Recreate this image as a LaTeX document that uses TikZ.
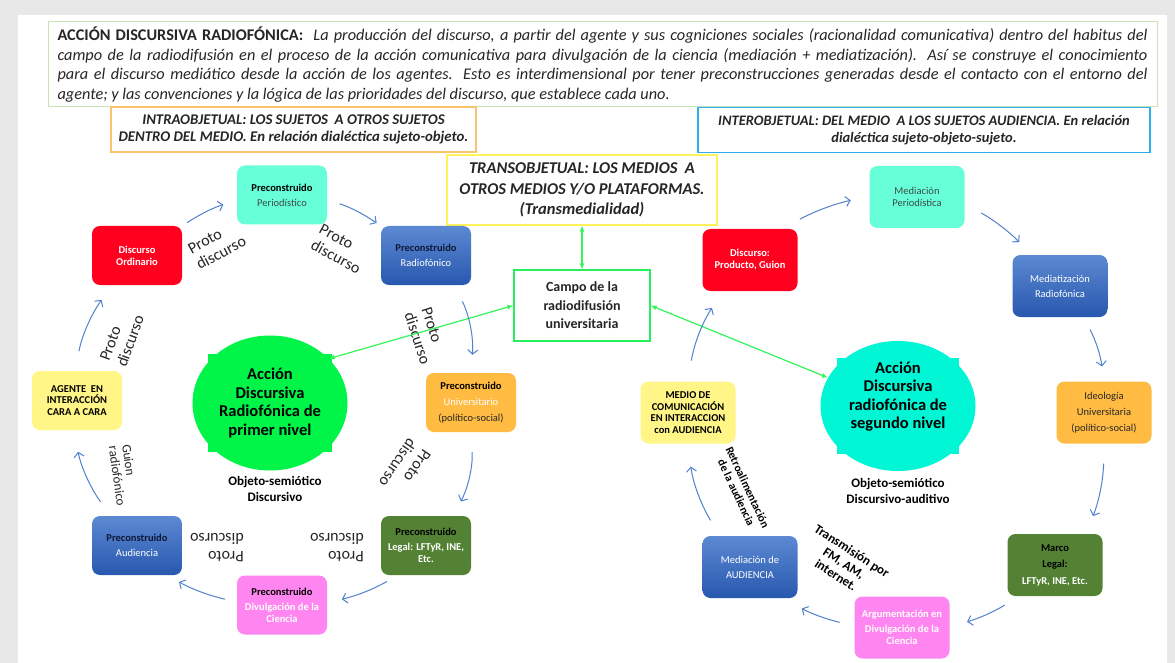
\documentclass[tikz,border=0pt]{standalone}
\usepackage{fontspec}
\setmainfont{Carlito}
\usetikzlibrary{shapes.geometric,arrows.meta}
\definecolor{page_gray}{RGB}{232,232,232}
\definecolor{hdr_green}{RGB}{200,226,185}
\definecolor{intra_orange}{RGB}{248,196,110}
\definecolor{inter_blue}{RGB}{45,175,235}
\definecolor{trans_yellow}{RGB}{255,242,90}
\definecolor{campo_green}{RGB}{40,240,90}
\definecolor{link_green}{RGB}{50,245,90}
\definecolor{cyc_blue}{RGB}{80,130,205}
\definecolor{box_red}{RGB}{255,0,30}
\definecolor{box_aqua}{RGB}{102,255,216}
\definecolor{box_blue_top}{RGB}{92,137,210}
\definecolor{box_blue_bot}{RGB}{40,88,175}
\definecolor{box_orange}{RGB}{255,187,66}
\definecolor{box_green}{RGB}{84,130,53}
\definecolor{box_pink}{RGB}{255,133,240}
\definecolor{box_yellow}{RGB}{255,246,135}
\definecolor{circ_green}{RGB}{0,245,72}
\definecolor{circ_aqua}{RGB}{0,246,212}
\definecolor{txt_dark}{RGB}{38,38,38}
\definecolor{txt_gray}{RGB}{60,75,70}
\definecolor{txt_navy}{RGB}{15,25,55}
\tikzstyle{headbox}=[rectangle,draw=hdr_green,line width=1pt,minimum width=1109pt,
  minimum height=85pt,inner sep=0pt,align=left,text=txt_dark,font=\fontsize{16.3}{19.5}\selectfont]
\tikzstyle{levelbox}=[rectangle,line width=1.2pt,inner sep=0pt,align=center,text=txt_dark,
  font=\fontsize{14.5}{17}\selectfont\bfseries\itshape]
\tikzstyle{cbox}=[rectangle,rounded corners=8pt,minimum width=90pt,minimum height=59pt,
  inner sep=2pt,align=center,text=black,font=\fontsize{10.5}{12}\selectfont]
\tikzstyle{rbox}=[cbox,minimum width=95pt,minimum height=62pt]
\tikzstyle{redbox}=[fill=box_red,text=white,font=\fontsize{10.5}{12}\selectfont\bfseries]
\tikzstyle{aquabox}=[fill=box_aqua,text=txt_gray]
\tikzstyle{bluebox}=[top color=box_blue_top,bottom color=box_blue_bot,text=white]
\tikzstyle{orangebox}=[fill=box_orange]
\tikzstyle{greenbox}=[fill=box_green,font=\fontsize{10.5}{12}\selectfont\bfseries]
\tikzstyle{pinkbox}=[fill=box_pink,font=\fontsize{10.5}{12}\selectfont\bfseries]
\tikzstyle{yellowbox}=[fill=box_yellow,font=\fontsize{10.5}{11.5}\selectfont\bfseries]
\tikzstyle{circ1}=[ellipse,fill=circ_green,minimum width=155pt,minimum height=135pt,
  inner sep=0pt,align=center,font=\fontsize{16.5}{18.5}\selectfont\bfseries]
\tikzstyle{circ2}=[circ1,fill=circ_aqua,minimum height=130pt]
\tikzstyle{objlabel}=[align=center,inner sep=0pt,font=\fontsize{13}{16.5}\selectfont\bfseries]
\tikzstyle{proto}=[align=left,inner sep=0pt,text=txt_dark,font=\fontsize{16}{18}\selectfont]
\tikzstyle{guionlabel}=[proto,font=\fontsize{13}{13.5}\selectfont]
\tikzstyle{retrolabel}=[align=center,inner sep=0pt,font=\fontsize{11.5}{12.5}\selectfont\bfseries]
\tikzstyle{translabel}=[align=center,inner sep=0pt,font=\fontsize{13}{14.5}\selectfont\bfseries]
\tikzstyle{cyc}=[draw=cyc_blue,line width=1pt,-{Straight Barb[length=4.5pt,width=10pt]}]
\tikzstyle{link}=[draw=link_green,line width=1.2pt,
  {Latex[length=6pt,width=5pt]}-{Latex[length=6pt,width=5pt]}]

\begin{document}
\begin{tikzpicture}[x=1pt,y=-1pt]
    \useasboundingbox (0,0) rectangle (1175,663);
    \fill [page_gray] (0,0) rectangle (1175,663);
    \fill [white] (18,15) rectangle (1167,663);

    \node [style=headbox] (intro) at (602.5,64.5) {%
      \makebox[1090pt][s]{\textbf{ACCIÓN DISCURSIVA RADIOFÓNICA:}\ \ \textit{La producción del discurso, a partir del agente y sus cogniciones sociales (racionalidad comunicativa) dentro del habitus del}}\\
      \makebox[1090pt][s]{\textit{campo de la radiodifusión en el proceso de la acción comunicativa para divulgación de la ciencia (mediación + mediatización). Así se construye el conocimiento}}\\
      \makebox[1090pt][s]{\textit{para el discurso mediático desde la acción de los agentes. Esto es interdimensional por tener preconstrucciones generadas desde el contacto con el entorno del}}\\
      \textit{agente; y las convenciones y la lógica de las prioridades del discurso, que establece cada uno.}};
    \node [style=levelbox,draw=intra_orange,minimum width=365pt,minimum height=45pt,
      font=\fontsize{14.8}{17}\selectfont\bfseries\itshape] (intra) at (293.5,129.5)
      {INTRAOBJETUAL: LOS SUJETOS\ \ A OTROS SUJETOS\\DENTRO DEL MEDIO. En relación dialéctica sujeto-objeto.};
    \node [style=levelbox,draw=inter_blue,minimum width=452pt,minimum height=45pt] (inter) at (924,130)
      {INTEROBJETUAL: DEL MEDIO\ \ A LOS SUJETOS AUDIENCIA. En relación\\dialéctica sujeto-objeto-sujeto.};
    \node [style=levelbox,draw=trans_yellow,minimum width=270pt,minimum height=70pt,
      font=\fontsize{16.5}{20.5}\selectfont\bfseries\itshape] (trans) at (582,190)
      {TRANSOBJETUAL: LOS MEDIOS\ \ A\\OTROS MEDIOS Y/O PLATAFORMAS.\\(Transmedialidad)};
    \node [style=levelbox,draw=campo_green,minimum width=136pt,minimum height=71pt,
      font=\fontsize{14}{18.5}\selectfont\bfseries] (campo) at (582,305.5)
      {Campo de la\\radiodifusión\\universitaria};

    \node [style=circ1] (accion1) at (270,403) {Acción\\Discursiva\\Radiofónica de\\primer nivel};
    \node [style=circ2] (accion2) at (898,406) {Acción\\Discursiva\\radiofónica de\\segundo nivel\\[3pt]};
    \foreach \a in {38,142,218,322} {
      \fill [circ_green] (accion1.\a) ++(-4,-4) rectangle ++(8,8);
      \fill [circ_aqua] (accion2.\a) ++(-4,-4) rectangle ++(8,8);
    }
    \node [style=objlabel] (obj1) at (275,489) {Objeto-semiótico\\Discursivo};
    \node [style=objlabel] (obj2) at (898,491) {Objeto-semiótico\\Discursivo-auditivo};

    \node [style=cbox,style=aquabox] (peri) at (282,195) {\textbf{\textcolor{black}{Preconstruido}}\\[3pt]Periodístico};
    \node [style=cbox,style=redbox] (ordi) at (137,255.5) {Discurso\\Ordinario};
    \node [style=cbox,style=bluebox] (radio) at (426,255.5) {\textbf{\textcolor{txt_navy}{Preconstruido}}\\[3pt]Radiofónico};
    \node [style=cbox,style=orangebox] (univ) at (471,402.5)
      {\textbf{Preconstruido}\\[4pt]\textcolor{white}{Universitario}\\[4pt]\textcolor{txt_dark}{(político-social)}};
    \node [style=cbox,style=greenbox] (legal) at (426,545.5) {Preconstruido\\[3pt]\textcolor{white}{Legal: LFTyR, INE,}\\\textcolor{white}{Etc.}};
    \node [style=cbox,style=pinkbox] (divul) at (282,605) {Preconstruido\\[3pt]\textcolor{white}{Divulgación de la}\\\textcolor{white}{Ciencia}};
    \node [style=cbox,style=bluebox] (audi) at (137,545.5) {\textbf{\textcolor{txt_navy}{Preconstruido}}\\[3pt]Audiencia};
    \node [style=cbox,style=yellowbox] (agente) at (77,400.5) {AGENTE\ \ EN\\INTERACCIÓN\\CARA A CARA};

    \node [style=rbox,style=aquabox] (medper) at (917,197) {Mediación\\Periodística};
    \node [style=rbox,style=redbox] (disc) at (750,260) {Discurso:\\Producto, Guion};
    \node [style=rbox,style=bluebox] (mediatiz) at (1060,286) {Mediatización\\[3pt]Radiofónica};
    \node [style=rbox,style=orangebox,text=txt_dark] (ideo) at (1104,412.5) {Ideología\\[4pt]Universitaria\\[4pt](político-social)};
    \node [style=rbox,style=greenbox] (marco) at (1055,565) {Marco\\[4.5pt]Legal:\\[4.5pt]\textcolor{white}{LFTyR, INE, Etc.}};
    \node [style=rbox,style=pinkbox,text=white] (argu) at (902,627.5) {Argumentación en\\[3pt]Divulgación de la\\Ciencia};
    \node [style=rbox,style=bluebox] (medaud) at (750,567) {Mediación de\\[3pt]AUDIENCIA};
    \node [style=rbox,style=yellowbox] (medio) at (688,412.5) {MEDIO DE\\COMUNICACIÓN\\EN INTERACCION\\con AUDIENCIA};

    \node [style=proto,rotate=28] (proto1) at (217,245) {Proto\\discurso};
    \node [style=proto,rotate=-28] (proto2) at (340,249) {Proto\\discurso};
    \node [style=proto,rotate=-72] (proto3) at (426,336) {Proto\\discurso};
    \node [style=proto,rotate=-124] (proto4) at (405,468) {Proto\\discurso};
    \node [style=proto,rotate=180] (proto5) at (337,548) {Proto\\discurso};
    \node [style=proto,rotate=180] (proto6) at (217,548) {Proto\\discurso};
    \node [style=proto,rotate=70] (proto7) at (122,338) {Proto\\discurso};
    \node [style=guionlabel,rotate=-82] (guion) at (124,475) {Guion\\radiofónico};
    \node [style=retrolabel,rotate=-65] (retro) at (742,490) {Retroalimentación\\de la audiencia};
    \node [style=translabel,rotate=-33] (transm) at (844,563) {Transmisión por\\FM, AM,\\internet.};

    \draw [style=link] (campo) to (trans);
    \draw [style=link] (campo.west) to (accion1.37);
    \draw [style=link] (campo.east) to (accion2.158);

    \draw [style=cyc,shorten <=6pt,shorten >=14pt] (ordi.north east) to [bend left=8] (peri.187);
    \draw [style=cyc,shorten <=13pt,shorten >=5pt] (peri.-6) to [bend left=8] (radio.north west);
    \draw [style=cyc,shorten <=18pt,shorten >=18pt] (radio.-46) to [bend left=15] (univ.north);
    \draw [style=cyc,shorten <=20pt,shorten >=16pt] (univ.south) to [bend left=15] (legal.47);
    \draw [style=cyc,shorten <=13pt,shorten >=15pt] (legal.227) to [bend left=8] (divul.3);
    \draw [style=cyc,shorten <=12pt,shorten >=14pt] (divul.176) to [bend left=8] (audi.-45);
    \draw [style=cyc,shorten <=17pt,shorten >=22pt] (audi.132) to [bend left=12] (agente.264);
    \draw [style=cyc,shorten <=20pt,shorten >=18pt] (agente.94) to [bend left=12] (ordi.230);

    \draw [style=cyc,shorten <=20pt,shorten >=19pt] (disc.44) to [bend left=8] (medper.179);
    \draw [style=cyc,shorten <=19pt,shorten >=18pt] (medper.-8) to [bend left=8] (mediatiz.132);
    \draw [style=cyc,shorten <=14pt,shorten >=15pt] (mediatiz.-53) to [bend left=10] (ideo.north);
    \draw [style=cyc,shorten <=20pt,shorten >=19pt] (ideo.south) to [bend left=10] (marco.45);
    \draw [style=cyc,shorten <=17pt,shorten >=18pt] (marco.221) to [bend left=8] (argu.1);
    \draw [style=cyc,shorten <=15pt,shorten >=21pt] (argu.178) to [bend left=8] (medaud.-43);
    \draw [style=cyc,shorten <=18pt,shorten >=23pt] (medaud.134) to [bend left=12] (medio.south);
    \draw [style=cyc,shorten <=21pt,shorten >=20pt] (medio.north) to [bend left=12] (disc.229);
  \end{tikzpicture}
\end{document}
